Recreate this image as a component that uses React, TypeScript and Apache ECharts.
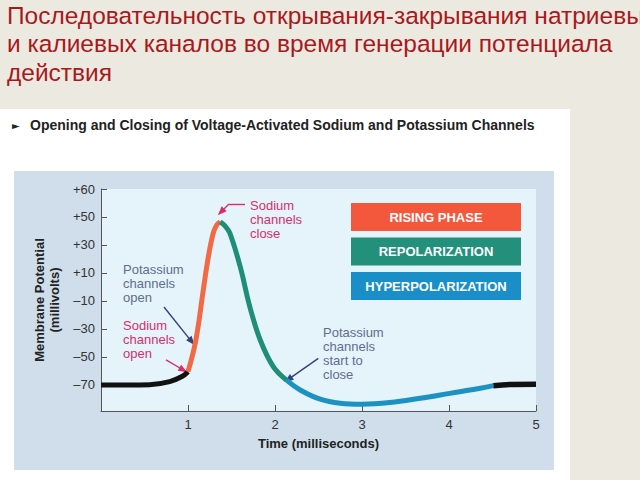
import React, { useEffect, useRef } from 'react';
import * as echarts from 'echarts';

// ---- text ----
const titleText =
  'Последовательность открывания-закрывания натриевых\nи калиевых каналов во время генерации потенциала\nдействия';
const subtitleText = 'Opening and Closing of Voltage-Activated Sodium and Potassium Channels';
const xAxisName = 'Time (milliseconds)';
const yAxisName = 'Membrane Potential\n(millivolts)';

// ---- ticks ----
const xTickValues = [1, 2, 3, 4, 5];
const yTickValues = [-70, -50, -30, -10, 10, 30, 50, 70];
const yTickLabels = ['–70', '–50', '–30', '–10', '+10', '+30', '+50', '+60'];

// ---- curve segments [time ms, mV] ----
const restingBefore = [
  [0, -70], [0.3, -70], [0.56, -69.8], [0.79, -67.6], [0.93, -64], [1.0, -60.5],
];
const risingPhase = [
  [1.0, -60.5], [1.09, -38], [1.176, -2], [1.234, 21.6], [1.29, 38.4], [1.33, 44.3], [1.37, 46.6],
];
const repolarization = [
  [1.37, 46.6], [1.425, 43.6], [1.48, 38.6], [1.6, 14.5], [1.71, -14], [1.83, -37.9], [1.98, -56.9], [2.13, -66.4],
];
const hyperpolarization = [
  [2.13, -66.4], [2.29, -73.6], [2.52, -80.2], [2.75, -83.1], [3.0, -83.8], [3.32, -82.6],
  [3.67, -79.5], [4.01, -76], [4.36, -72.4], [4.51, -70.5],
];
const restingAfter = [
  [4.51, -70.5], [4.74, -69.6], [5.0, -69.5],
];

// ---- phase legend ----
const phaseLabels = ['RISING PHASE', 'REPOLARIZATION', 'HYPERPOLARIZATION'];
const phaseColors = ['#f4583c', '#22907b', '#1a8ec6'];

// ---- annotation arrows: [from, to] in data coords ----
const arrowNaCloseTail = [[1.655, 59.3], [1.471, 59.3]];
const arrowNaCloseHead = [[1.471, 59.3], [1.379, 53.6]];
const arrowKOpen = [[0.724, -14.3], [1.042, -39]];
const arrowNaOpen = [[0.747, -52.1], [0.946, -59.3]];
const arrowKClose = [[2.498, -51], [2.153, -66]];

const annotations = [
  { text: 'Sodium\nchannels\nclose', x: 250, y: 198, kind: 'na' },
  { text: 'Potassium\nchannels\nopen', x: 123, y: 262, kind: 'k' },
  { text: 'Sodium\nchannels\nopen', x: 123, y: 318, kind: 'na' },
  { text: 'Potassium\nchannels\nstart to\nclose', x: 323, y: 325, kind: 'k' },
];

const FONT = '"Liberation Sans", Arial, Helvetica, sans-serif';
const NA_COLOR = '#d4306c';
const K_COLOR = '#5f6d8e';
const K_ARROW = '#34407a';

export default function App() {
  const ref = useRef<HTMLDivElement>(null);

  useEffect(() => {
    if (!ref.current) return;
    const chart = echarts.init(ref.current, undefined, { renderer: 'svg' });

    const seg = (name: string, data: number[][], color: string, width = 5, extra: any = {}) => ({
      name,
      type: 'line',
      data,
      showSymbol: false,
      smooth: 0.4,
      lineStyle: { color, width },
      z: 5,
      silent: true,
      ...extra,
    });

    const arrowLine = (pts: number[][], color: string, curveness = 0, head = true) => [
      {
        coord: pts[0],
        symbol: 'none',
        lineStyle: { color, width: 1.4, type: 'solid', curveness },
        itemStyle: { color },
      },
      head
        ? { coord: pts[1], symbol: 'triangle', symbolSize: [7, 9], itemStyle: { color } }
        : { coord: pts[1], symbol: 'none', itemStyle: { color } },
    ];

    const legendGraphics: any[] = [];
    phaseLabels.forEach((lab, i) => {
      const top = 203 + i * 34.5;
      legendGraphics.push({
        type: 'rect',
        shape: { x: 351, y: top, width: 170, height: 28 },
        style: { fill: phaseColors[i] },
        z: 10,
      });
      legendGraphics.push({
        type: 'text',
        x: 436,
        y: top + 14,
        style: {
          text: lab,
          fill: '#ffffff',
          font: `bold 13px ${FONT}`,
          align: 'center',
          verticalAlign: 'middle',
        },
        z: 11,
      });
    });

    const annotationGraphics = annotations.map((a) => ({
      type: 'text',
      x: a.x,
      y: a.y,
      style: {
        text: a.text,
        fill: a.kind === 'na' ? NA_COLOR : K_COLOR,
        font: `13px ${FONT}`,
        lineHeight: 14,
        align: 'left',
        verticalAlign: 'top',
      },
      z: 11,
    }));

    chart.setOption({
      animation: false,
      backgroundColor: '#ece9e1',
      textStyle: { fontFamily: FONT },
      title: [
        {
          text: titleText,
          left: 7,
          top: 1,
          padding: 0,
          textStyle: { fontSize: 24.5, lineHeight: 28.5, fontWeight: 'normal', color: '#a8191c', fontFamily: FONT },
        },
        {
          text: '►',
          left: 12,
          top: 120,
          padding: 0,
          textStyle: { fontSize: 10, fontWeight: 'normal', color: '#222', fontFamily: 'DejaVu Sans' },
        },
        {
          text: subtitleText,
          left: 30,
          top: 118,
          padding: 0,
          textStyle: { fontSize: 14, fontWeight: 'bold', color: '#222', fontFamily: FONT },
        },
      ],
      graphic: [
        { type: 'rect', shape: { x: 0, y: 109, width: 570, height: 371 }, style: { fill: '#ffffff' }, z: -20, silent: true },
        { type: 'rect', shape: { x: 14, y: 171, width: 540, height: 299 }, style: { fill: '#cfdeea' }, z: -10, silent: true },
        ...legendGraphics,
        ...annotationGraphics,
      ],
      grid: {
        left: 101,
        right: 104,
        top: 189,
        bottom: 69,
        show: true,
        backgroundColor: '#e5f3fa',
        borderWidth: 0,
        outerBoundsMode: 'none',
      },
      xAxis: {
        type: 'value',
        min: 0,
        max: 5,
        name: xAxisName,
        nameLocation: 'middle',
        nameGap: 25,
        nameTextStyle: { fontSize: 13, fontWeight: 'bold', color: '#222', lineHeight: 15 },
        axisLine: { onZero: false, lineStyle: { color: '#555', width: 1 } },
        axisTick: { show: true, inside: true, length: 6, customValues: xTickValues, lineStyle: { color: '#555' } },
        axisLabel: { customValues: xTickValues, margin: 7, fontSize: 13, color: '#333' },
        splitLine: { show: false },
      },
      yAxis: {
        type: 'value',
        min: -88.6,
        max: 70,
        name: yAxisName,
        nameLocation: 'middle',
        nameRotate: 90,
        nameGap: 38,
        nameTextStyle: { fontSize: 13, fontWeight: 'bold', color: '#222', lineHeight: 15, align: 'center' },
        axisLine: { show: true, onZero: false, lineStyle: { color: '#555', width: 1 } },
        axisTick: { show: true, inside: true, length: 6, customValues: yTickValues, lineStyle: { color: '#555' } },
        axisLabel: {
          customValues: yTickValues,
          margin: 6,
          fontSize: 13,
          color: '#333',
          formatter: (v: number) => {
            const i = yTickValues.indexOf(Math.round(v));
            return i >= 0 ? yTickLabels[i] : '';
          },
        },
        splitLine: { show: false },
      },
      series: [
        seg('restingBefore', restingBefore, '#111111', 5, {
          markLine: {
            silent: true,
            symbol: ['none', 'triangle'],
            symbolSize: 9,
            label: { show: false },
            lineStyle: { type: 'solid', width: 1.4 },
            emphasis: { disabled: true },
            data: [
              arrowLine(arrowNaCloseTail, NA_COLOR, 0, false),
              arrowLine(arrowNaCloseHead, NA_COLOR, -0.5),
              arrowLine(arrowKOpen, K_ARROW),
              arrowLine(arrowNaOpen, NA_COLOR),
              arrowLine(arrowKClose, K_ARROW),
            ],
          },
        }),
        seg('risingPhase', risingPhase, '#f26a45'),
        seg('repolarization', repolarization, '#1f8e79'),
        seg('hyperpolarization', hyperpolarization, '#1c92c2'),
        seg('restingAfter', restingAfter, '#111111', 5.5),
      ],
    });

    return () => chart.dispose();
  }, []);

  return (
    <div
      ref={ref}
      style={{ position: 'fixed', left: 0, top: 0, width: 640, height: 480 }}
    />
  );
}
